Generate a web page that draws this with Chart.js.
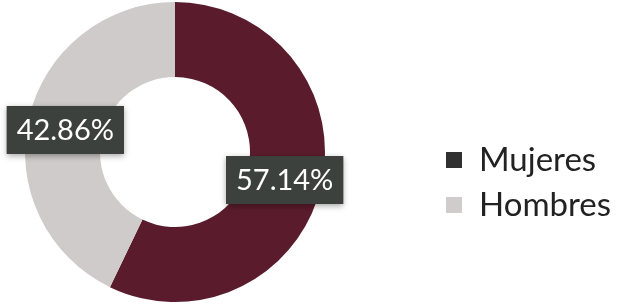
<!DOCTYPE html>
<html>
<head>
<meta charset="utf-8">
<script src="https://cdn.jsdelivr.net/npm/chart.js@4/dist/chart.umd.min.js"></script>
<style>
  html, body { margin: 0; padding: 0; background: #fff; }
</style>
</head>
<body>
<canvas id="chart1" width="618" height="305"></canvas>
<script>
var labels = ['Mujeres', 'Hombres'];
var values = [57.14, 42.86];
var colors = ['#5a1c2c', '#cecbca'];
var legendColors = ['#303030', '#cfcccb'];

// etiquetas de porcentaje en cajas oscuras
var pctLabels = {
    id: 'pctLabels',
    afterDatasetsDraw: function (chart) {
        var ctx = chart.ctx;
        var meta = chart.getDatasetMeta(0);
        ctx.save();
        ctx.font = '29px Lato, "Open Sans", sans-serif';
        ctx.textAlign = 'center';
        ctx.textBaseline = 'middle';
        meta.data.forEach(function (arc, i) {
            var p = arc.tooltipPosition();
            var txt = values[i].toFixed(2) + '%';
            var w = ctx.measureText(txt).width + 20;
            var h = 48;
            ctx.shadowColor = 'rgba(0,0,0,0.35)';
            ctx.shadowBlur = 6;
            ctx.shadowOffsetY = 2;
            ctx.fillStyle = '#3c413d';
            ctx.fillRect(p.x - w / 2, p.y + 3 - h / 2, w, h);
            ctx.shadowColor = 'transparent';
            ctx.fillStyle = '#ffffff';
            ctx.fillText(txt, p.x, p.y + 4);
        });
        ctx.restore();
    }
};

// leyenda a la derecha
var sideLegend = {
    id: 'sideLegend',
    afterDraw: function (chart) {
        var ctx = chart.ctx;
        ctx.save();
        ctx.font = '33px Lato, "Open Sans", sans-serif';
        ctx.textBaseline = 'middle';
        labels.forEach(function (lab, i) {
            var y = 160 + i * 45;
            ctx.fillStyle = legendColors[i];
            ctx.fillRect(446, y - 8, 16, 16);
            ctx.fillStyle = '#222222';
            ctx.fillText(lab, 479, y);
        });
        ctx.restore();
    }
};

var ctx1 = document.getElementById('chart1').getContext('2d');
var chart1 = new Chart(ctx1, {
    type: 'doughnut',
    data: {
        labels: labels,
        datasets: [{
            data: values,
            backgroundColor: colors,
            borderWidth: 0
        }]
    },
    options: {
        responsive: false,
        animation: false,
        cutout: '50%',
        layout: { padding: { left: 25, right: 293, top: 2, bottom: 3 } },
        plugins: {
            legend: { display: false },
            tooltip: { enabled: false }
        }
    },
    plugins: [pctLabels, sideLegend]
});
</script>
</body>
</html>
